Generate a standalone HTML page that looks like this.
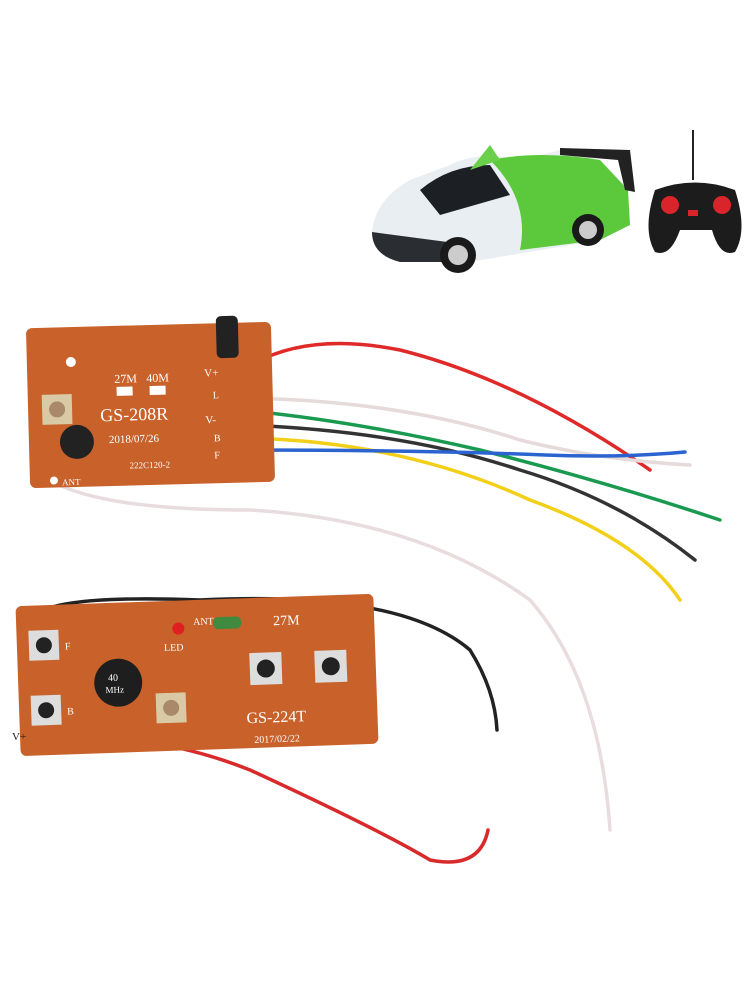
<!DOCTYPE html>
<html><head><meta charset="utf-8"><style>
html,body{margin:0;padding:0;background:#fff;width:750px;height:1000px;overflow:hidden}
text{font-family:"Liberation Serif",serif}
</style></head><body>
<svg width="750" height="1000" viewBox="0 0 750 1000" xmlns="http://www.w3.org/2000/svg">
<rect width="750" height="1000" fill="#fff"/>
<g>
<path d="M372 232 Q375 200 410 180 L450 165 Q480 150 520 160 L560 150 L600 160 L625 185 L630 225 L600 240 L470 262 L400 262 Q372 255 372 232Z" fill="#e9eef2"/>
<path d="M490 160 Q540 150 600 160 L628 190 L630 225 L600 240 L520 250 Q530 200 490 160Z" fill="#5cc93c"/>
<path d="M420 190 Q450 165 490 165 L510 195 L440 215Z" fill="#1c2024"/>
<path d="M372 232 L470 245 L470 262 L400 262 Q372 255 372 232Z" fill="#2a2d31"/>
<circle cx="458" cy="255" r="18" fill="#1a1a1a"/><circle cx="458" cy="255" r="10" fill="#ccc"/>
<circle cx="588" cy="230" r="16" fill="#1a1a1a"/><circle cx="588" cy="230" r="9" fill="#ccc"/>
<path d="M560 148 L630 150 L635 192 L625 190 L618 160 L560 155Z" fill="#222"/>
<path d="M470 170 L490 145 L500 160 Z" fill="#6ad04a"/>
</g>
<line x1="693" y1="130" x2="693" y2="180" stroke="#222" stroke-width="2"/>
<path d="M655 190 Q695 175 735 190 Q748 230 735 252 Q720 258 712 230 L680 230 Q670 258 655 252 Q642 230 655 190Z" fill="#1c1c1c"/>
<circle cx="670" cy="205" r="9" fill="#d8242a"/><circle cx="722" cy="205" r="9" fill="#d8242a"/>
<rect x="688" y="210" width="10" height="6" fill="#d8242a"/>
<g fill="none" stroke-width="3.5" stroke-linecap="round">
<path d="M240 372 Q300 330 400 350 Q520 380 650 470" stroke="#e02a2a"/>
<path d="M240 398 Q400 400 520 440 Q600 460 690 465" stroke="#e6dada"/>
<path d="M240 410 Q350 420 480 450 Q600 480 720 520" stroke="#1a9a50"/>
<path d="M240 425 Q400 430 520 470 Q620 500 695 560" stroke="#333"/>
<path d="M240 438 Q400 440 530 500 Q640 540 680 600" stroke="#f2cf18"/>
<path d="M240 450 Q420 450 545 455 Q620 458 685 452" stroke="#2b64d0"/>
<path d="M50 480 Q100 510 250 510 Q420 520 530 600 Q600 680 610 830" stroke="#e8dcdf"/>
<path d="M40 612 Q70 595 200 600 Q400 590 470 650 Q495 690 497 730" stroke="#222"/>
<path d="M35 738 Q150 730 250 770 Q380 830 430 860 Q480 870 488 830" stroke="#d82a2a"/>
</g>
<g transform="rotate(-1.5 150 405)">
<rect x="28" y="325" width="245" height="160" rx="6" fill="#c8612a"/>
<text x="115" y="382" font-size="12" fill="#fff">27M</text>
<text x="147" y="382" font-size="12" fill="#fff">40M</text>
<rect x="117" y="386" width="16" height="9" fill="#fff"/><rect x="150" y="386" width="16" height="9" fill="#fff"/>
<text x="100" y="420" font-size="18" fill="#fff">GS-208R</text>
<text x="108" y="442" font-size="11" fill="#fff">2018/07/26</text>
<text x="128" y="468" font-size="9" fill="#fff">222C120-2</text>
<text x="205" y="378" font-size="11" fill="#fff">V+</text>
<text x="213" y="400" font-size="10" fill="#fff">L</text>
<text x="205" y="425" font-size="11" fill="#fff">V-</text>
<text x="213" y="443" font-size="10" fill="#fff">B</text>
<text x="213" y="460" font-size="10" fill="#fff">F</text>
<circle cx="72" cy="360" r="5" fill="#fff"/>
<rect x="42" y="392" width="30" height="30" fill="#d9c9a4"/><circle cx="57" cy="407" r="8" fill="#a9896a"/>
<rect x="218" y="318" width="22" height="42" rx="5" fill="#222"/>
<circle cx="76" cy="440" r="17" fill="#222"/>
<circle cx="52" cy="478" r="4" fill="#fff"/>
<text x="60" y="483" font-size="9" fill="#fff">ANT</text>
</g>
<g transform="rotate(-2 195 675)">
<rect x="18" y="600" width="358" height="150" rx="6" fill="#c8612a"/>
<rect x="30" y="625" width="30" height="30" fill="#ddd"/><circle cx="45" cy="640" r="8" fill="#222"/>
<rect x="30" y="690" width="30" height="30" fill="#ddd"/><circle cx="45" cy="705" r="8" fill="#222"/>
<text x="66" y="645" font-size="10" fill="#fff">F</text>
<text x="66" y="710" font-size="10" fill="#fff">B</text>
<circle cx="118" cy="680" r="24" fill="#1e1e1e"/>
<text x="108" y="678" font-size="10" fill="#fff">40</text><text x="105" y="690" font-size="9" fill="#fff">MHz</text>
<circle cx="180" cy="628" r="6" fill="#e02020"/>
<text x="165" y="650" font-size="10" fill="#fff">LED</text>
<text x="195" y="625" font-size="10" fill="#fff">ANT</text>
<rect x="215" y="618" width="28" height="12" rx="5" fill="#3f8a3f"/>
<text x="275" y="628" font-size="14" fill="#fff">27M</text>
<rect x="155" y="692" width="30" height="30" fill="#d9c9a4"/><circle cx="170" cy="707" r="8" fill="#a9896a"/>
<rect x="250" y="655" width="32" height="32" fill="#ddd"/><circle cx="266" cy="671" r="9" fill="#222"/>
<rect x="315" y="655" width="32" height="32" fill="#ddd"/><circle cx="331" cy="671" r="9" fill="#222"/>
<text x="245" y="725" font-size="16" fill="#fff">GS-224T</text>
<text x="252" y="745" font-size="10" fill="#fff">2017/02/22</text>
</g>
<text x="12" y="740" font-size="11" fill="#222">V+</text>
</svg>
</body></html>
